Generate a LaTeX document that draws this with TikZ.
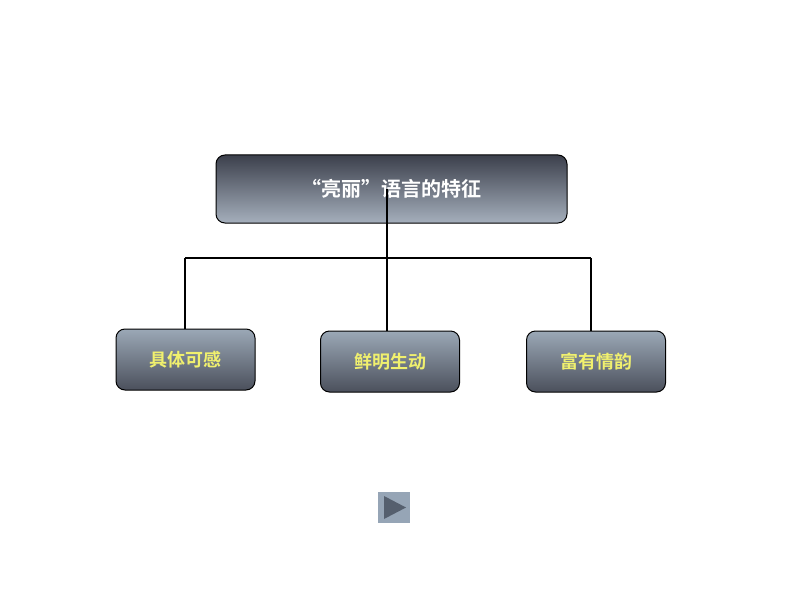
\documentclass[tikz,border=0pt]{standalone}
\usepackage{fontspec}
\newfontfamily\cjk{Noto Sans CJK SC}[BoldFont={Noto Sans CJK SC Bold}]
\definecolor{tdark}{RGB}{60,64,76}
\definecolor{tlight}{RGB}{165,175,188}
\definecolor{slight}{RGB}{155,168,182}
\definecolor{sdark}{RGB}{75,80,92}
\definecolor{ytext}{RGB}{240,240,110}
\definecolor{playbg}{RGB}{150,165,182}
\definecolor{playtri}{RGB}{85,95,110}
\begin{document}
\begin{tikzpicture}[x=1pt,y=-1pt,
  topbox/.style={draw=black,line width=1pt,rounded corners=9pt,top color=tdark,bottom color=tlight,minimum width=351pt,minimum height=68pt,font=\cjk\bfseries\fontsize{20}{24}\selectfont,text=white},
  subbox/.style={draw=black,line width=1pt,rounded corners=9pt,top color=slight,bottom color=sdark,minimum width=139pt,minimum height=61pt,font=\cjk\bfseries\fontsize{18}{22}\selectfont,text=ytext},
  conn/.style={line width=2pt,black}]
\useasboundingbox (0,0) rectangle (794,596);
\node[topbox] (top) at (391.5,189) {“亮丽”语言的特征};
\node[subbox] (a) at (185.5,359.5) {具体可感};
\node[subbox] (b) at (390,361.5) {鲜明生动};
\node[subbox] (c) at (596,361.5) {富有情韵};
\coordinate (j) at (387,258);
\coordinate (l) at (185,258);
\coordinate (r) at (591,258);
\draw[conn] (387,189) -- (j);
\draw[conn] (l) -- (r);
\draw[conn] (l) -- (a.north -| l);
\draw[conn] (j) -- (b.north -| j);
\draw[conn] (r) -- (c.north -| r);
\node[fill=playbg,minimum width=32pt,minimum height=31pt,inner sep=0] (play) at (394,507.5) {};
\fill[playtri] (384,496) -- (384,519) -- (406,507.5) -- cycle;
\end{tikzpicture}
\end{document}
